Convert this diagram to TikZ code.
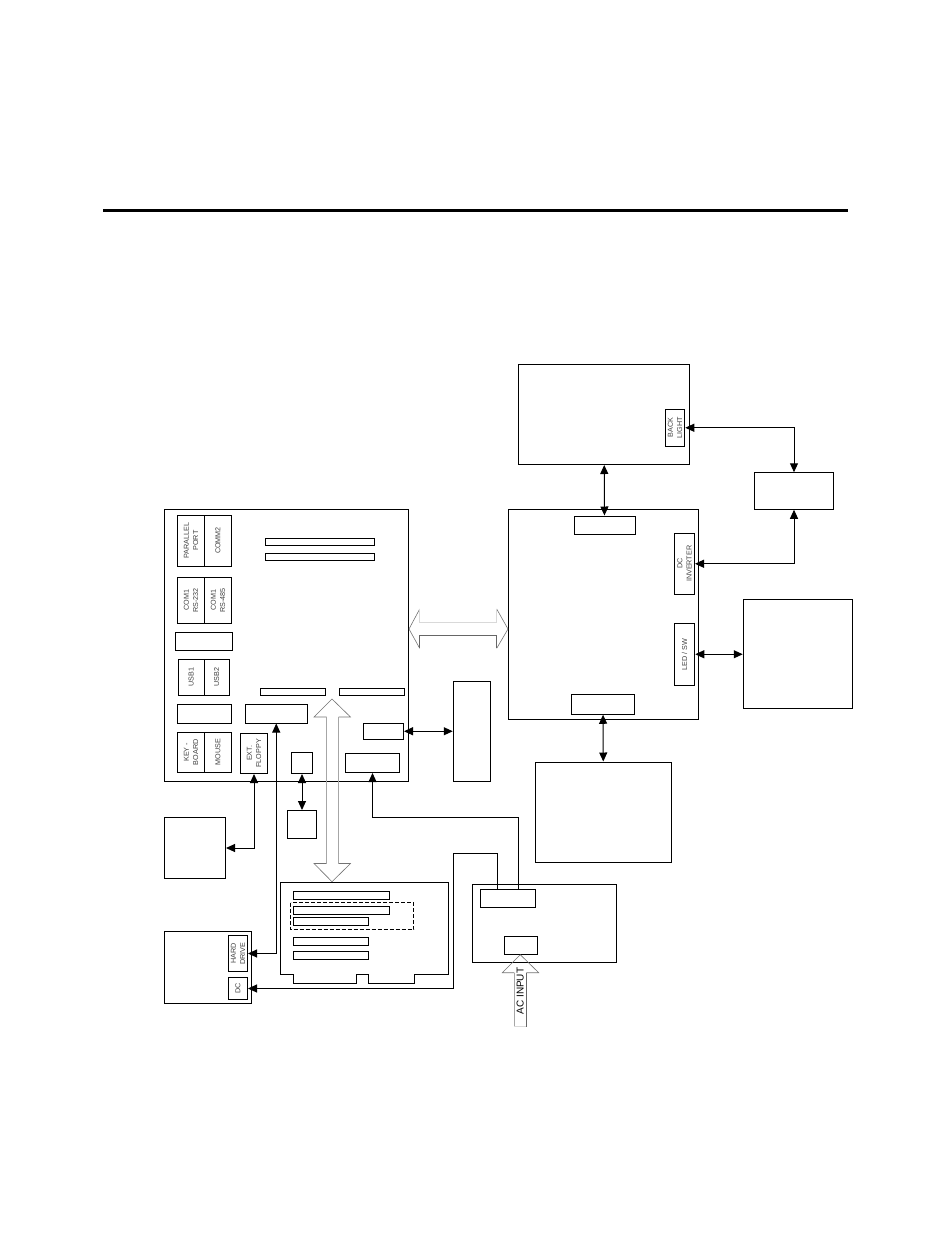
\documentclass[tikz,border=0pt]{standalone}
\usepackage{fontspec}
\setmainfont{Liberation Sans}
\usetikzlibrary{arrows.meta}

\tikzset{
    box/.style={draw=black,line width=1pt,inner sep=0pt,align=center},
    tag/.style={box,rotate=90,text=black!75,font=\fontsize{7.2}{9.3}\selectfont},
    link/.style={draw=black,line width=1pt},
    busedge/.style={draw=black!55,line width=0.6pt},
    busline/.style={draw=black!35,line width=1pt}
}

\begin{document}
\begin{tikzpicture}[x=1pt,y=-1pt]
        \useasboundingbox (0,0) rectangle (950,1237);

        \fill[black] (103,208.7) rectangle (848,212.4);

        % large boards
        \begin{scope}[every node/.style={box}]
            \node[minimum width=243.5,minimum height=272.5] (mainboard) at (286.25,645.25) {};
            \node[minimum width=171,minimum height=100] (panel) at (604,414.5) {};
            \node[minimum width=190,minimum height=210] (controller) at (603.25,614) {};
            \node[minimum width=79.5,minimum height=36.5] (inverter) at (794,491) {};
            \node[minimum width=109.5,minimum height=109] (rightbox) at (798,653.5) {};
            \node[minimum width=37,minimum height=100] (sidebox) at (471.75,731.25) {};
            \node[minimum width=136.5,minimum height=100] (lowerbox) at (603.5,812) {};
            \node[minimum width=61,minimum height=61] (floppybox) at (195,848) {};
            \node[minimum width=29,minimum height=28] (jumperbox) at (302,824.5) {};
            \node[minimum width=87,minimum height=72] (drivebox) at (208,967.5) {};
            \node[minimum width=144.5,minimum height=78] (powerbox) at (544.5,923.25) {};
        \end{scope}

        % connectors on the boards
        \begin{scope}[every node/.style={box}]
            \node[minimum width=109,minimum height=7.5] (slota) at (320,541.75) {};
            \node[minimum width=109,minimum height=7.5] (slotb) at (320,557) {};
            \node[minimum width=65,minimum height=7.5] (slotc) at (293,692) {};
            \node[minimum width=65,minimum height=7.5] (slotd) at (372,692) {};
            \node[minimum width=57.5,minimum height=17.5] (vga) at (203.75,641.25) {};
            \node[minimum width=54,minimum height=18.5] (lan) at (204.5,713.75) {};
            \node[minimum width=61.5,minimum height=18.5] (ide) at (276.25,713.75) {};
            \node[minimum width=21,minimum height=21.5] (jumper) at (302,762.75) {};
            \node[minimum width=54,minimum height=19.5] (atx) at (372.5,762.75) {};
            \node[minimum width=40,minimum height=16.5] (audio) at (383.5,731.25) {};
            \node[minimum width=61,minimum height=18] (paneltop) at (604.5,525) {};
            \node[minimum width=63.5,minimum height=20] (panelbot) at (603,704.25) {};
            \node[minimum width=55.5,minimum height=18] (psout) at (508,898.25) {};
            \node[minimum width=33.5,minimum height=18.5] (psin) at (521,945.5) {};
        \end{scope}

        % rotated labels
        \node[tag,minimum width=51,minimum height=26.5] (parallel) at (191,540.5) {PARALLEL\\PORT};
        \node[tag,minimum width=51,minimum height=27.5] (commtwo) at (218,540.5) {COMM2};
        \node[tag,minimum width=46.5,minimum height=26.5] (comrs) at (191,600.25) {COM1\\RS-232};
        \node[tag,minimum width=46.5,minimum height=27.5] (comrsb) at (218,600.25) {COM1\\RS-485};
        \node[tag,minimum width=35.5,minimum height=25.5] (usbone) at (191.25,677.25) {USB1};
        \node[tag,minimum width=35.5,minimum height=25.5] (usbtwo) at (216.75,677.25) {USB2};
        \node[tag,minimum width=40.5,minimum height=26.5] (keyboard) at (191,752.25) {KEY -\\BOARD};
        \node[tag,minimum width=40.5,minimum height=27.5] (mouse) at (218,752.25) {MOUSE};
        \node[tag,minimum width=40.5,minimum height=27] (extfloppy) at (254,753.25) {EXT.\\FLOPPY};
        \node[tag,minimum width=37,minimum height=19.5] (backlight) at (675,427.75) {BACK\\LIGHT};
        \node[tag,minimum width=61,minimum height=20] (dcinv) at (684.5,563.75) {DC\\INVERTER};
        \node[tag,minimum width=62,minimum height=20.5] (ledsw) at (684.5,654.25) {LED / SW};
        \node[tag,minimum width=36,minimum height=19] (harddrive) at (238,953.5) {HARD\\DRIVE};
        \node[tag,minimum width=22,minimum height=19] (dcin) at (238,988.5) {DC};

        % add-in card
        \draw[link] (280.5,882.5) -- (448.5,882.5) -- (448.5,974.5) -- (414.5,974.5) -- (414.5,983.5)
            -- (368.5,983.5) -- (368.5,974.5) -- (356.5,974.5) -- (356.5,983.5) -- (293.5,983.5)
            -- (293.5,974.5) -- (280.5,974.5) -- cycle;
        \begin{scope}[every node/.style={box}]
            \node[minimum width=96,minimum height=8] (cardslota) at (341.5,895.5) {};
            \node[minimum width=96,minimum height=8] (cardslotb) at (341.5,910.5) {};
            \node[minimum width=75,minimum height=8] (cardslotc) at (331,921.5) {};
            \node[minimum width=75,minimum height=8] (cardslotd) at (331,941.5) {};
            \node[minimum width=75,minimum height=8] (cardslote) at (331,955.5) {};
        \end{scope}
        \draw[line width=0.7pt,dash pattern=on 4pt off 2pt] (290.5,902.5) rectangle (413.5,929.5);

        % wide arrows
        \draw[busedge] (419.7,609) -- (409,629) -- (419.7,648.3) (496.7,609) -- (508,629) -- (496.7,648.3);
        \draw[draw=black!15,line width=1pt] (419.7,609) -- (419.7,622) -- (496.7,622) -- (496.7,609);
        \draw[draw=black!60,line width=1pt] (419.7,648.3) -- (419.7,635.3) -- (496.7,635.3) -- (496.7,648.3);
        \draw[busedge] (326.5,717) -- (314,717) -- (332,699) -- (350.5,717) -- (338.5,717);
        \draw[busedge] (326.5,863.5) -- (314,863.5) -- (332,881.7) -- (350.5,863.5) -- (338.5,863.5);
        \draw[busline] (326.5,717) -- (326.5,863.5) (338.5,717) -- (338.5,863.5);
        \draw[busedge] (514.3,972.7) -- (502.3,972.7) -- (520.3,954.7) -- (538.7,972.7) -- (526.3,972.7);
        \draw[busline] (514.3,972.7) -- (514.3,1026.7);
        \draw[draw=black!60,line width=1pt] (526.3,972.7) -- (526.3,1026.7);
        \draw[draw=black!15,line width=1pt] (514.3,1026.7) -- (526.3,1026.7);
        \node[rotate=90,inner sep=0pt,font=\fontsize{10}{10}\selectfont] (acinput) at (520.3,991) {AC INPUT};

        % bend points on the power supply
        \coordinate (psouta) at (497.3,889.3);
        \coordinate (psoutb) at (518.3,889.3);
        \coordinate (benda) at (453.7,853.3);
        \coordinate (bendb) at (518.3,817.3);

        \begin{scope}[>={Stealth[length=9pt,width=8pt,inset=0pt]},
                    every path/.style={link}]
            \path [<->] (panel) -- (paneltop);
            \path [<->] (panelbot) -- (lowerbox);
            \path [<->] (backlight.south) -| (inverter.north);
            \path [<->] (dcinv.south) -| (inverter.south);
            \path [<->] (ledsw.south) -- (rightbox.west |- ledsw.south);
            \path [<->] (audio) -- (sidebox);
            \path [<->] (jumper) -- (jumperbox);
            \path [<->] (extfloppy.west) |- (floppybox.east);
            \path [<->] (ide.south) |- (harddrive.south);
            \path [->] (psoutb) -- (bendb) -| (atx.south);
            \path [->] (psouta) |- (benda) |- (dcin.south);
        \end{scope}
    \end{tikzpicture}
\end{document}
